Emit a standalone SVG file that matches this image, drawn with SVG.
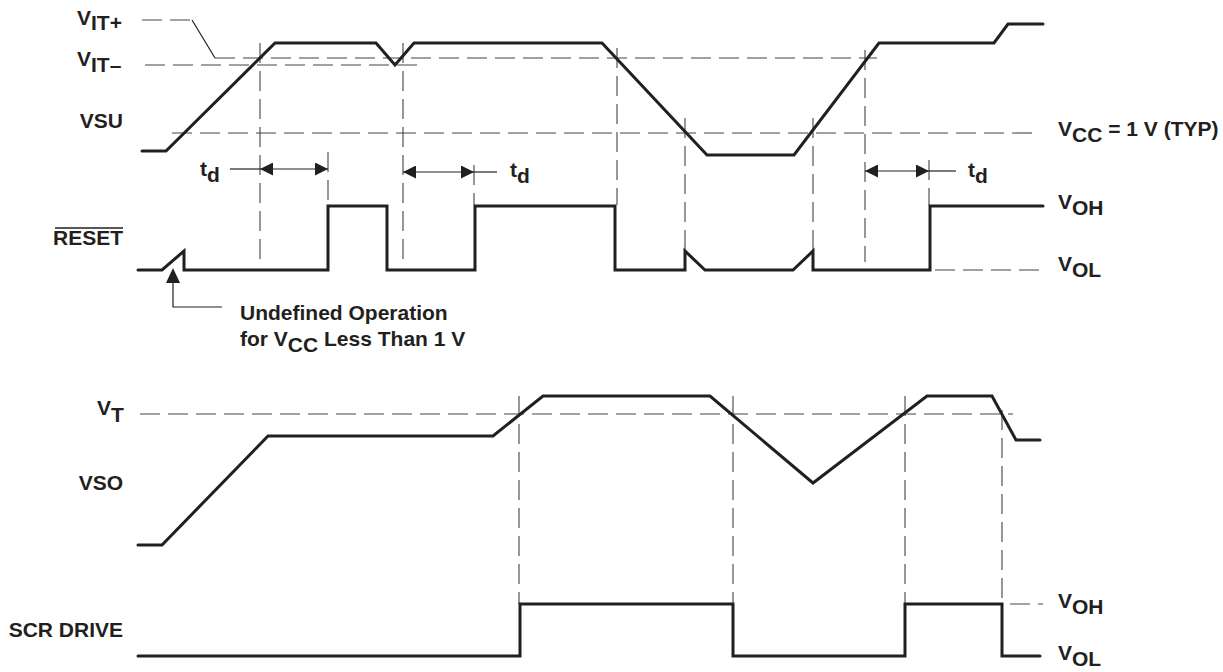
<svg xmlns="http://www.w3.org/2000/svg" width="1223" height="672" viewBox="0 0 1223 672">
<style>
.w{fill:none;stroke:#231f20;stroke-width:3;stroke-linejoin:miter;stroke-linecap:round}
.d{fill:none;stroke:#444;stroke-width:1.1;stroke-dasharray:20 8}
.t{fill:none;stroke:#231f20;stroke-width:1.2}
.a{fill:none;stroke:#231f20;stroke-width:1.2;marker-start:url(#ah);marker-end:url(#ah)}
text{font-family:"Liberation Sans",Arial,sans-serif;font-weight:bold;font-size:21px;fill:#231f20}
.r{text-anchor:end}
</style>
<defs>
<marker id="ah" viewBox="0 0 13 13" refX="13" refY="6.5" markerWidth="13" markerHeight="13" markerUnits="userSpaceOnUse" orient="auto-start-reverse">
<path d="M0,0 L13,6.5 L0,13 Z" fill="#231f20"/>
</marker>
</defs>
<g id="connectors">
<path class="d" d="M142,20 H190"/>
<path class="t" d="M192,20 L215,58"/>
<path class="d" d="M215,58 H877"/>
<path class="d" d="M145,65 H422"/>
<path class="d" d="M172,133 H1040"/>
<path class="d" d="M935,270 H1043"/>
<path class="d" d="M140,414 H1013"/>
<path class="d" d="M1010,604 H1043"/>
<path class="d" d="M260,43 V262"/>
<path class="d" d="M328,152 V205"/>
<path class="d" d="M403,43 V262"/>
<path class="d" d="M474,165 V205"/>
<path class="d" d="M617,48 V205"/>
<path class="d" d="M685,118 V262"/>
<path class="d" d="M813,118 V262"/>
<path class="d" d="M865,50 V262"/>
<path class="d" d="M929,160 V205"/>
<path class="d" d="M519,396 V604"/>
<path class="d" d="M733,396 V604"/>
<path class="d" d="M905,396 V604"/>
<path class="d" d="M1002,410 V604"/>
<path class="t" d="M230,169 H260"/>
<path class="a" d="M260,169 H328"/>
<path class="a" d="M403,172 H474"/>
<path class="t" d="M474,172 H497"/>
<path class="a" d="M865,171 H929"/>
<path class="t" d="M929,171 H956"/>
<path class="t" d="M173,282 V307 H222"/>
<path d="M173,268 L166,283 L180,283 Z" fill="#231f20"/>
</g>
<g id="vcc-wave">
<path class="w" d="M142,151 H166 L275,43 H376 L395,65 L414,43 H602 L707,155 H794 L879,43 H994 L1008,24 H1043"/>
</g>
<g id="reset-wave">
<path class="w" d="M138,270 H162 L184,251 V270 H328 V206 H387 V270 H475 V206 H615 V270 H685 V251 L705,270 H793 L813,251 V270 H930 V206 H1043"/>
</g>
<g id="vso-wave">
<path class="w" d="M138,545 H162 L268,436 H493 L543,396 H710 L813,483 L927,396 H992 L1016,440 H1040"/>
</g>
<g id="scr-wave">
<path class="w" d="M138,656 H520 V604 H733 V656 H905 V604 H1002 V656 H1040"/>
</g>
<g id="labels">
<text x="77" y="25">V<tspan dy="5">IT+</tspan></text>
<text x="77" y="66">V<tspan dy="6">IT–</tspan></text>
<text class="r" x="123" y="128">VSU</text>
<text x="200" y="176">t<tspan dy="6">d</tspan></text>
<text x="510" y="177">t<tspan dy="6">d</tspan></text>
<text x="968" y="177">t<tspan dy="6">d</tspan></text>
<text x="1058" y="136">V<tspan dy="6">CC</tspan><tspan dy="-6"> = 1 V (TYP)</tspan></text>
<text class="r" x="123" y="245">RESET</text>
<path d="M55,228 H123" stroke="#231f20" stroke-width="1.6"/>
<text x="1058" y="209">V<tspan dy="6">OH</tspan></text>
<text x="1058" y="271">V<tspan dy="6">OL</tspan></text>
<text x="240" y="320">Undefined Operation</text>
<text x="240" y="346">for V<tspan dy="6">CC</tspan><tspan dy="-6"> Less Than 1 V</tspan></text>
<text x="97" y="415">V<tspan dy="7">T</tspan></text>
<text class="r" x="123" y="490">VSO</text>
<text class="r" x="123" y="637">SCR DRIVE</text>
<text x="1058" y="608">V<tspan dy="6">OH</tspan></text>
<text x="1058" y="660">V<tspan dy="6">OL</tspan></text>
</g>
</svg>
